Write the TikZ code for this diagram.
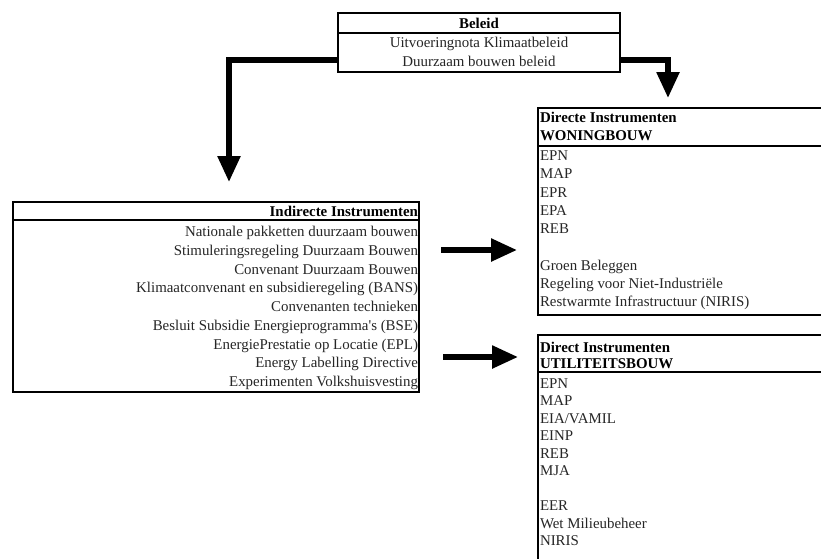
\documentclass[tikz,border=0pt]{standalone}
\usepackage{fontspec}
\setmainfont{Liberation Serif}
\usetikzlibrary{arrows.meta}
\tikzset{
  boxframe/.style={draw=black, line width=1.7pt, rectangle, inner sep=0pt, outer sep=0pt, anchor=north west},
  divider/.style={draw=black, line width=1.7pt},
  txt/.style={inner sep=0pt, outer sep=0pt, font=\fontsize{14.9}{18}\selectfont, text=black!85},
  head/.style={txt, font=\fontsize{14.9}{18}\selectfont\bfseries, text=black},
  bigarrow/.style={draw=black, line width=5.5pt, -{Triangle[length=26pt,width=22pt]}}
}
\begin{document}
\begin{tikzpicture}[x=1pt,y=-1pt]
\clip (0,0) rectangle (821,558);
\fill[white] (0,0) rectangle (821,558);

% boxes
\node[boxframe, minimum width=282pt, minimum height=59pt] (beleid) at (338,13) {};
\node[boxframe, minimum width=406pt, minimum height=190pt] (indirecte) at (13,202) {};
\node[boxframe, minimum width=300pt, minimum height=207pt] (woning) at (538,108) {};
\node[boxframe, minimum width=300pt, minimum height=260pt] (utiliteit) at (538,335) {};

% header dividers
\draw[divider] (beleid.west |- 0,33) -- (beleid.east |- 0,33);
\draw[divider] (indirecte.west |- 0,220) -- (indirecte.east |- 0,220);
\draw[divider] (woning.west |- 0,146) -- (woning.east |- 0,146);
\draw[divider] (utiliteit.west |- 0,372) -- (utiliteit.east |- 0,372);

% Beleid texts
\node[head, anchor=base] (t-beleid) at (479,28) {Beleid};
\node[txt, anchor=base] (t-uitv) at (479,47) {Uitvoeringnota Klimaatbeleid};
\node[txt, anchor=base] (t-duur) at (479,66) {Duurzaam bouwen beleid};

% Indirecte texts
\node[head, anchor=base east] (t-indir) at (418,216.5) {Indirecte Instrumenten};
\foreach \t [count=\i from 0] in {
  Nationale pakketten duurzaam bouwen,
  Stimuleringsregeling Duurzaam Bouwen,
  Convenant Duurzaam Bouwen,
  Klimaatconvenant en subsidieregeling (BANS),
  Convenanten technieken,
  Besluit Subsidie Energieprogramma\textquotesingle s (BSE),
  EnergiePrestatie op Locatie (EPL),
  Energy Labelling Directive,
  Experimenten Volkshuisvesting}
  \node[txt, anchor=base east] (ind-\i) at (418,236.5+18.75*\i) {\t};

% Woningbouw texts
\node[head, anchor=base west] (t-dir1) at (540,122) {Directe Instrumenten};
\node[head, anchor=base west] (t-won) at (540,140) {WONINGBOUW};
\foreach \t/\i in {EPN/0, MAP/1, EPR/2, EPA/3, REB/4, Groen Beleggen/6,
  Regeling voor Niet-Industriële/7, Restwarmte Infrastructuur (NIRIS)/8}
  \node[txt, anchor=base west] (won-\i) at (540,160.5+18.25*\i) {\t};

% Utiliteitsbouw texts
\node[head, anchor=base west] (t-dir2) at (540,352) {Direct Instrumenten};
\node[head, anchor=base west] (t-util) at (540,368) {UTILITEITSBOUW};
\foreach \t/\i in {EPN/0, MAP/1, {EIA/VAMIL}/2, EINP/3, REB/4, MJA/5, EER/7,
  Wet Milieubeheer/8, NIRIS/9}
  \node[txt, anchor=base west] (util-\i) at (540,388+17.5*\i) {\t};

% connectors
\draw[bigarrow, shorten >=20pt] (beleid.west |- 0,60) -| (229,0 |- indirecte.north);
\draw[bigarrow, shorten >=10pt] (beleid.east |- 0,60) -| (668,0 |- woning.north);
\draw[bigarrow, shorten <=22pt, shorten >=21pt] (indirecte.east |- 0,250) -- (woning.west |- 0,250);
\draw[bigarrow, shorten <=24pt, shorten >=20pt] (indirecte.east |- 0,357) -- (utiliteit.west |- 0,357);
\end{tikzpicture}
\end{document}
